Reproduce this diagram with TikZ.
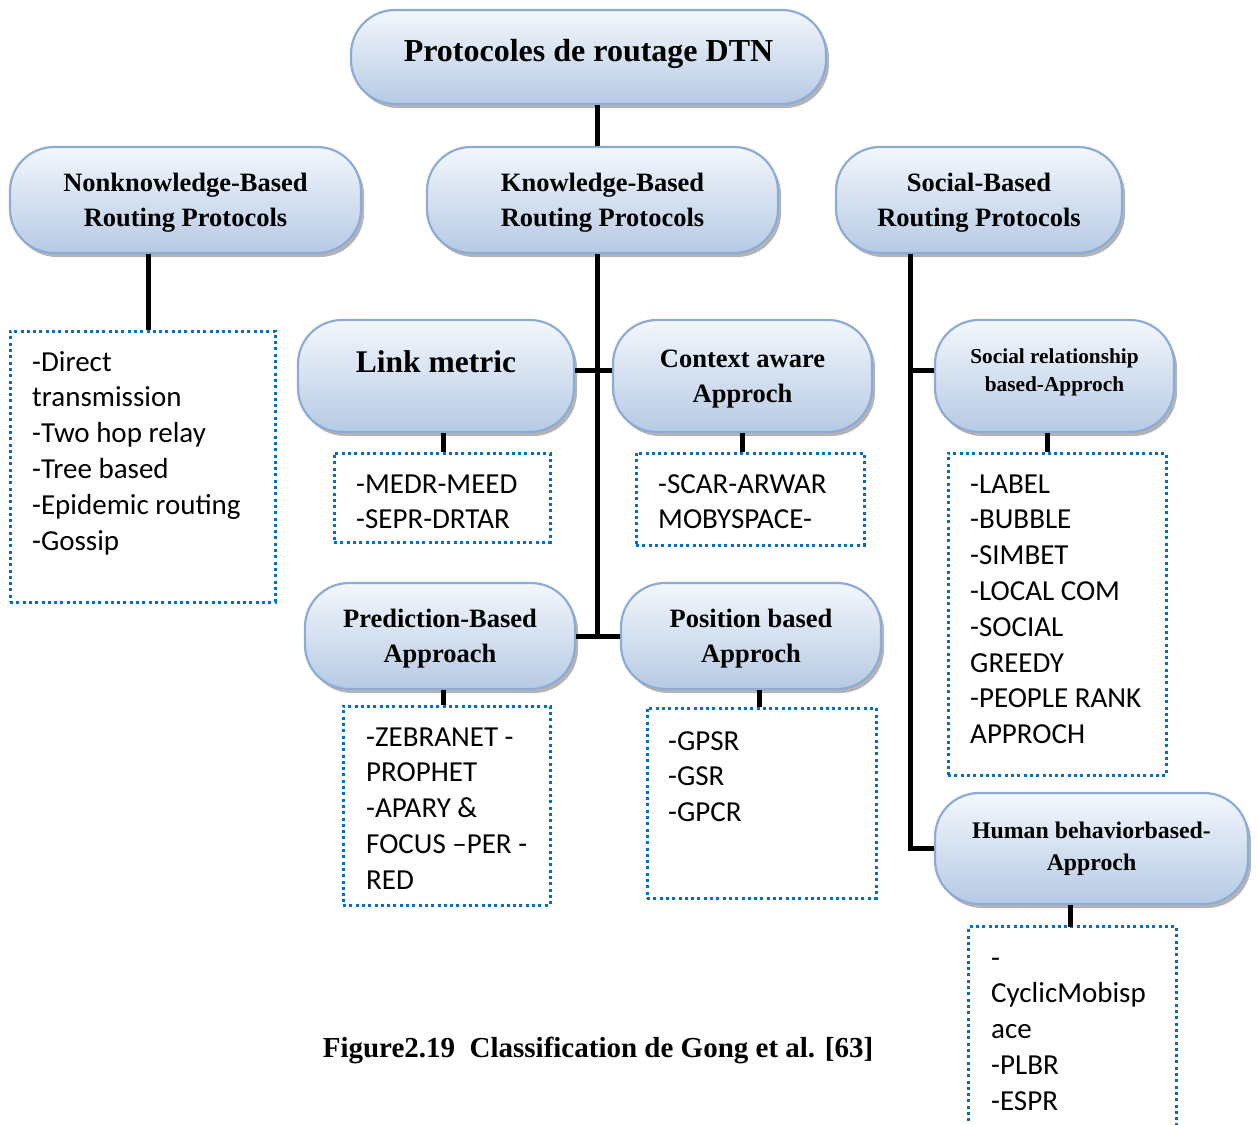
\documentclass[tikz,border=0pt]{standalone}
\usepackage{fontspec}
\setmainfont{Liberation Serif}
\newfontfamily\listfont{Carlito}
\usetikzlibrary{shadows}

\definecolor{pillborder}{RGB}{141,172,213}
\definecolor{pilltop}{RGB}{243,247,252}
\definecolor{pillbottom}{RGB}{182,202,228}
\definecolor{dotblue}{RGB}{0,112,192}

\tikzset{
  pill/.style={rounded corners=44pt, draw=pillborder, line width=2.2pt,
    top color=pilltop, bottom color=pillbottom,
    drop shadow={shadow xshift=3pt, shadow yshift=-4pt, opacity=0.45, fill=black!65},
    align=center, inner sep=0pt, text depth=-10pt,
    font=\bfseries\fontsize{26.5}{35}\selectfont},
  listbox/.style={draw=dotblue, line width=3pt, dash pattern=on 3pt off 3.3pt, inner sep=0pt},
  % anchored at the baseline of the last line
  listtext/.style={anchor=base west, align=left, inner sep=0pt,
    font=\listfont\fontsize{29}{35.8}\selectfont},
  link/.style={line width=5pt, draw=black},
}

\begin{document}
\begin{tikzpicture}[x=1pt, y=-1pt]
\useasboundingbox (0,0) rectangle (1257,1124);

% x positions of the vertical connectors and y of the upper branch row
\coordinate (kx) at (597,0);
\coordinate (nkx) at (148,0);
\coordinate (sx) at (910,0);
\coordinate (lmx) at (443,0);
\coordinate (cax) at (742,0);
\coordinate (srx) at (1047,0);
\coordinate (pox) at (759,0);
\coordinate (hbx) at (1070,0);
\coordinate (row1) at (0,370);

% root
\node[pill, minimum width=475pt, minimum height=94pt, text depth=13pt,
      font=\bfseries\fontsize{32}{38}\selectfont] (top) at (588.5,57) {Protocoles de routage DTN};

% main families
\node[pill, minimum width=351pt, minimum height=106pt] (nk) at (185.5,200) {Nonknowledge-Based\\Routing Protocols};
\node[pill, minimum width=351pt, minimum height=106pt] (kb) at (602.5,200) {Knowledge-Based\\Routing Protocols};
\node[pill, minimum width=286pt, minimum height=106pt] (sb) at (979,200) {Social-Based\\Routing Protocols};

% knowledge-based approaches
\node[pill, minimum width=276pt, minimum height=112pt, text depth=28pt,
      font=\bfseries\fontsize{31.5}{36}\selectfont] (lm) at (436,376) {Link metric};
\node[pill, minimum width=259pt, minimum height=112pt] (ca) at (742.5,376) {Context aware\\Approch};
\node[pill, minimum width=270pt, minimum height=106pt] (pb) at (440,636) {Prediction-Based\\Approach};
\node[pill, minimum width=260pt, minimum height=106pt] (po) at (751,636) {Position based\\Approch};

% social-based approaches
\node[pill, minimum width=239pt, minimum height=112pt, text depth=12.5pt,
      font=\bfseries\fontsize{21.3}{28}\selectfont] (sr) at (1054.5,376) {Social relationship\\based-Approch};
\node[pill, minimum width=313pt, minimum height=111pt, text depth=4pt,
      font=\bfseries\fontsize{23.8}{32}\selectfont] (hb) at (1091.5,848.5) {Human behaviorbased-\\Approch};

% protocol lists
\node[listbox, minimum width=265pt, minimum height=271pt] (nkl) at (142.5,466.5) {};
\node[listtext] (nkt) at (32,550) {-Direct\\transmission\\-Two hop relay\\-Tree based\\-Epidemic routing\\-Gossip};

\node[listbox, minimum width=216pt, minimum height=89pt] (lml) at (442,497.5) {};
\node[listtext] (lmt) at (356,528.8) {-MEDR-MEED\\-SEPR-DRTAR};

\node[listbox, minimum width=228pt, minimum height=92pt] (cal) at (750,499) {};
\node[listtext] (cat) at (658,528.8) {-SCAR-ARWAR\\MOBYSPACE-};

\node[listbox, minimum width=218pt, minimum height=322pt] (srl) at (1057,614) {};
\node[listtext] (srt) at (970,743.6) {-LABEL\\-BUBBLE\\-SIMBET\\-LOCAL COM\\-SOCIAL\\GREEDY\\-PEOPLE RANK\\APPROCH};

\node[listbox, minimum width=207pt, minimum height=199pt] (pbl) at (446.5,805.5) {};
\node[listtext] (pbt) at (366,889.2) {-ZEBRANET -\\PROPHET\\-APARY \&\\FOCUS –PER -\\RED};

\node[listbox, minimum width=229pt, minimum height=190pt] (pol) at (761.5,803) {};
\node[listtext] (pot) at (668,821.6) {-GPSR\\-GSR\\-GPCR};

% this list runs on past the lower edge: only three sides are drawn
\node[inner sep=0pt, minimum width=207pt, minimum height=213pt] (hbl) at (1072.5,1033.5) {};
\draw[listbox] (hbl.south west) -- (hbl.north west) -- (hbl.north east) -- (hbl.south east);
\node[listtext] (hbt) at (991,1110.2) {-\\CyclicMobisp\\ace\\-PLBR\\-ESPR};

% tree connectors
\draw[link] (top.south -| kx) -- (kb.north -| kx);
\draw[link] (nk.south -| nkx) -- (nkl.north -| nkx);
\draw[link] (kb.south -| kx) -- (kx |- pb.east);
\draw[link] (lm.east |- row1) -- (ca.west |- row1);
\draw[link] (pb.east) -- (po.west);
\draw[link] (sb.south -| sx) -- (sx |- hb.west) -- (hb.west);
\draw[link] (sx |- row1) -- (sr.west |- row1);

\draw[link] (lm.south -| lmx) -- (lml.north -| lmx);
\draw[link] (ca.south -| cax) -- (cal.north -| cax);
\draw[link] (sr.south -| srx) -- (srl.north -| srx);
\draw[link] (pb.south -| lmx) -- (pbl.north -| lmx);
\draw[link] (po.south -| pox) -- (pol.north -| pox);
\draw[link] (hb.south -| hbx) -- (hbl.north -| hbx);

% caption
\node[inner sep=0pt, font=\bfseries\fontsize{29}{34}\selectfont] (cap) at (598,1050)
  {Figure2.19\ \ Classification de Gong et al. [63]};
\end{tikzpicture}
\end{document}
